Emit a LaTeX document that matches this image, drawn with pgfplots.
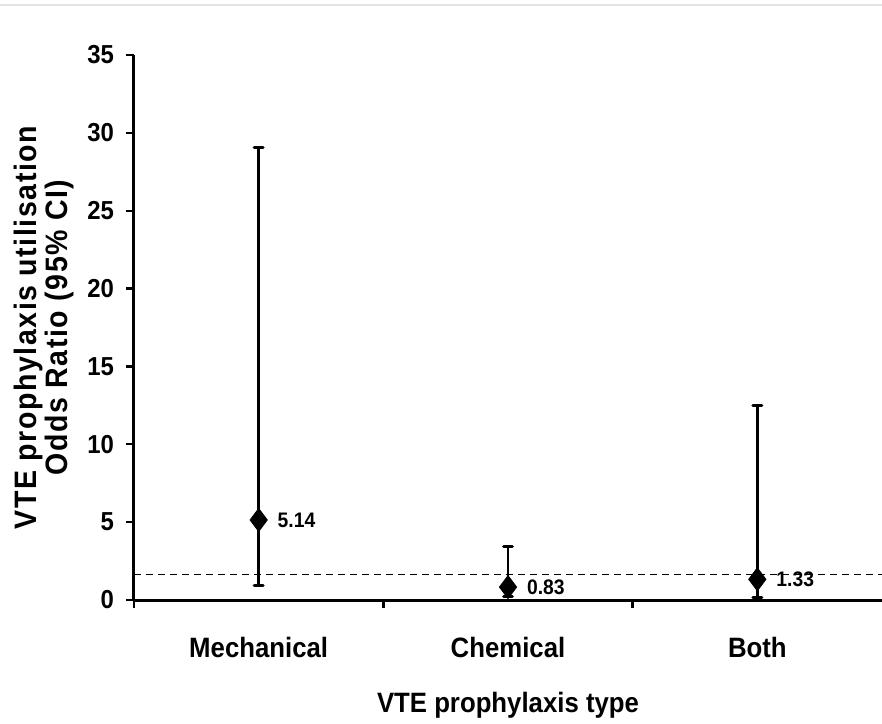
\documentclass[border=0pt]{standalone}
\usepackage{fontspec}
\setmainfont{Liberation Sans}[FakeStretch=0.92]
\usepackage{pgfplots}
\usepackage{pgfplotstable}
\pgfplotsset{compat=1.18}

\pgfplotstableread{
x y ep em lbl
0 5.14 23.91 4.22 5.14
1 0.83 2.59 0.62 0.83
2 1.33 11.15 1.16 1.33
}\datatable

\begin{document}
\begin{tikzpicture}
\path[use as bounding box] (-67pt,-61.5pt) rectangle (374pt,300pt);
\draw[gray!22, line width=1.2pt] (-67pt,297.5pt) -- (374pt,297.5pt);
\begin{axis}[
  at={(0,0)}, anchor=south west,
  scale only axis, width=374pt, height=272.5pt,
  xmin=-0.5, xmax=2.5, ymin=0, ymax=35,
  clip=false,
  axis x line*=bottom, axis y line*=left,
  axis line style={line width=1.5pt, -},
  tick align=outside,
  major tick length=4pt,
  major tick style={line width=1.2pt, black},
  xtick={-0.5,0.5,1.5}, xticklabels={},
  extra x ticks={0,1,2},
  extra x tick labels={Mechanical,Chemical,Both},
  extra x tick style={major tick length=0pt,
     xticklabel style={yshift=-15pt}},
  ytick={0,5,...,35},
  yticklabel={\bfseries\fontsize{13}{15}\selectfont\pgfmathprintnumber[assume math mode=true]{\tick}},
  y tick label style={xshift=-2.5pt},
  x tick label style={font=\bfseries\fontsize{14}{16}\selectfont},
  xlabel={VTE prophylaxis type},
  ylabel={VTE prophylaxis utilisation\\Odds Ratio (95\% CI)},
  every axis x label/.style={at={(axis description cs:0.5,0)}, anchor=center, yshift=-52.5pt,
     font=\bfseries\fontsize{14}{16}\selectfont},
  every axis y label/.style={at={(axis description cs:0,0.5)}, rotate=90, anchor=center,
     yshift=45pt, align=center, font=\bfseries\fontsize{15.5}{13.5}\selectfont\addfontfeatures{LetterSpace=5}},
]
\addplot[black, line width=0.8pt, dash pattern=on 3.5pt off 2.5pt] coordinates {(-0.5,1.65) (2.5,1.65)};
\addplot[black, only marks, mark=diamond*, mark size=5.75pt,
  error bars/.cd, y dir=both, y explicit,
    error bar style={line width=1.4pt, black},
    error mark options={rotate=90, line width=1.6pt, mark size=2.2pt, black, line cap=round}]
  table[x=x, y=y, y error plus=ep, y error minus=em]{\datatable};
\addplot[draw=none, only marks, mark=none,
  nodes near coords, point meta=explicit symbolic,
  nodes near coords style={anchor=west, xshift=6pt, black,
     font=\bfseries\fontsize{10.5}{12}\selectfont}]
  table[x=x, y=y, meta=lbl]{\datatable};
\end{axis}
\end{tikzpicture}
\end{document}
